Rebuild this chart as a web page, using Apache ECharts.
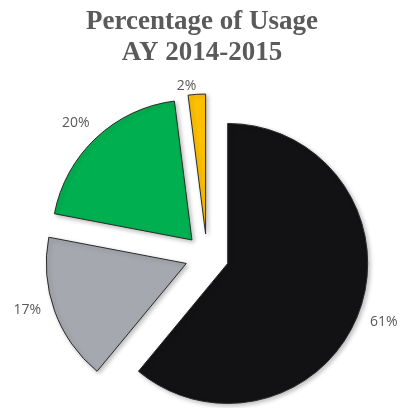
<!DOCTYPE html>
<html>
<head>
<meta charset="utf-8">
<script src="https://cdn.jsdelivr.net/npm/echarts@6/dist/echarts.min.js"></script>
<style>
html,body{margin:0;padding:0;background:#fff;}
#chart{width:404px;height:408px;}
</style>
</head>
<body>
<div id="chart"></div>
<script>
var titleLines = ['Percentage of Usage', 'AY 2014-2015'];
var categories = ['Group 1', 'Group 2', 'Group 3', 'Group 4'];
var values = [61, 17, 20, 2];
var colors = ['#121214', '#a5a8ae', '#00b050', '#ffc000'];
// small per-slice label nudges (style only)
var labelNudge = [[-2, 8], [-1, -4], [4, -9], [5, 0]];

var chart = echarts.init(document.getElementById('chart'), null, {renderer: 'canvas'});
var data = categories.map(function (c, i) {
  return {
    name: c,
    value: values[i],
    selected: true,
    itemStyle: {color: colors[i]}
  };
});
chart.setOption({
  animation: false,
  backgroundColor: '#ffffff',
  title: {
    text: titleLines.join('\n'),
    left: 'center',
    top: 2,
    textStyle: {
      fontFamily: 'Liberation Serif',
      fontWeight: 'bold',
      fontSize: 27,
      lineHeight: 31,
      color: '#5a5a5a'
    }
  },
  series: [{
    type: 'pie',
    center: [207, 256],
    radius: [0, 140],
    startAngle: 90,
    clockwise: true,
    selectedMode: 'multiple',
    selectedOffset: 22,
    avoidLabelOverlap: false,
    data: data,
    itemStyle: {
      borderColor: '#2a2a2a',
      borderWidth: 1,
      shadowBlur: 4,
      shadowColor: 'rgba(0,0,0,0.25)',
      shadowOffsetX: 2,
      shadowOffsetY: 2
    },
    select: {itemStyle: {borderColor: '#2a2a2a', borderWidth: 1}},
    label: {
      show: true,
      position: 'outside',
      formatter: '{c}%',
      fontFamily: 'Open Sans',
      fontSize: 14,
      color: '#595959'
    },
    labelLine: {show: false, length: 8, length2: 0},
    labelLayout: function (p) {
      var n = labelNudge[p.dataIndex];
      return {dx: n[0], dy: n[1]};
    },
    emphasis: {disabled: true}
  }]
});
</script>
</body>
</html>
